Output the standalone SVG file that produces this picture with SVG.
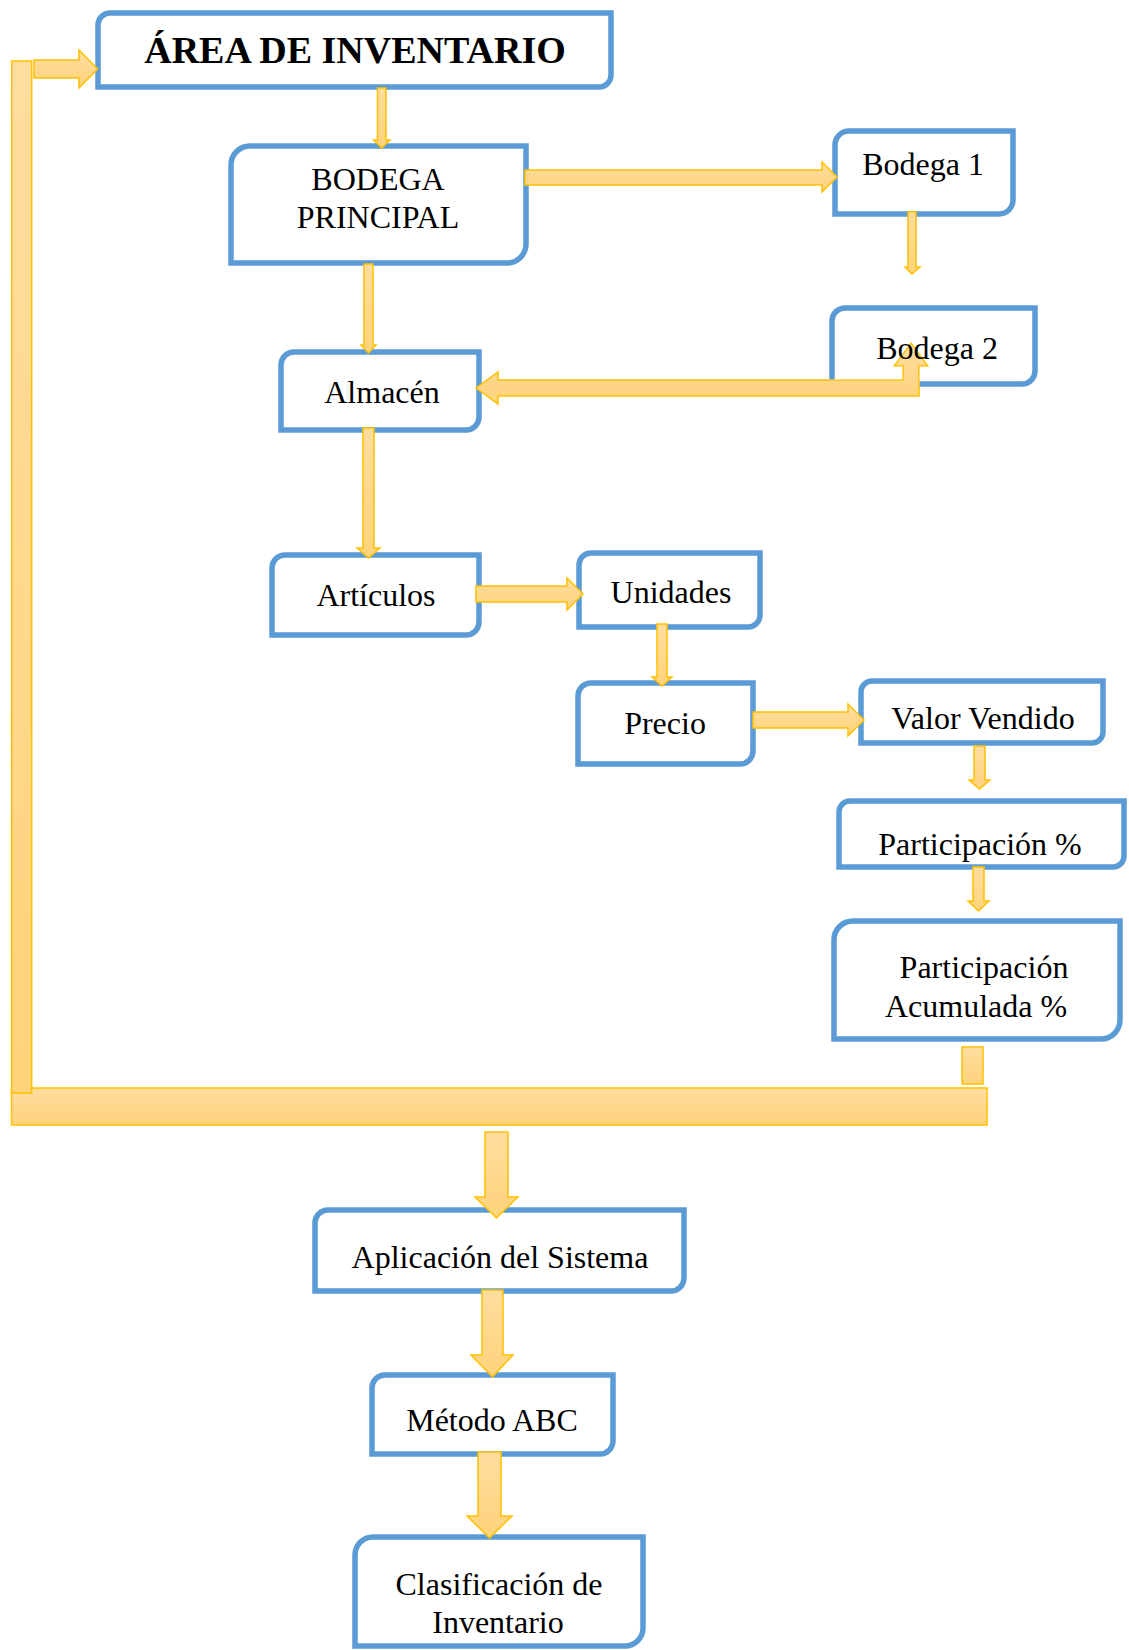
<svg xmlns="http://www.w3.org/2000/svg" width="1129" height="1650" viewBox="0 0 1129 1650">
  <style>
    .box { fill: #FFFFFF; stroke: #5B9BD5; stroke-width: 5.5; }
    .arw { fill: url(#arrowFill); stroke: #FFC000; stroke-width: 1.5; stroke-linejoin: miter; }
    .lbl { font-family: "Liberation Serif", "Times New Roman", serif; font-size: 32px; fill: #000000; text-anchor: middle; }
    .title { font-family: "Liberation Serif", "Times New Roman", serif; font-size: 38px; font-weight: bold; fill: #000000; text-anchor: middle; }
  </style>
  <defs>
    <linearGradient id="arrowFill" x1="0" y1="0" x2="0" y2="1">
      <stop offset="0" stop-color="#FFDD9F"/>
      <stop offset="1" stop-color="#FFD37B"/>
    </linearGradient>
    <!-- left-up arrow outline, shared by the connector and the mask of Bodega 2 -->
    <polygon id="leftUpArrow" points="476,388 498,372 498,380 903,380 903,366 894,366 911,343 928,366 919,366 919,396 498,396 498,404"/>
    <mask id="underArrow" maskUnits="userSpaceOnUse" x="0" y="0" width="1129" height="1650">
      <rect width="1129" height="1650" fill="#FFFFFF"/>
      <use href="#leftUpArrow" fill="#000000" stroke="#000000" stroke-width="1.5"/>
    </mask>
  </defs>
  <rect width="1129" height="1650" fill="#FFFFFF"/>

  <!-- Nodes: rectangles with rounded top-left and bottom-right corners -->
  <g id="area-inventario">
    <path class="box" d="M110,13 H611 V75 A12,12 0 0 1 599,87 H98 V25 A12,12 0 0 1 110,13 Z"/>
    <text class="title" x="355" y="63">ÁREA DE INVENTARIO</text>
  </g>
  <g id="bodega-principal">
    <path class="box" d="M250,146 H526 V244 A19,19 0 0 1 507,263 H231 V165 A19,19 0 0 1 250,146 Z"/>
    <text class="lbl" x="378" y="190">BODEGA</text>
    <text class="lbl" x="378" y="228">PRINCIPAL</text>
  </g>
  <g id="bodega-1">
    <path class="box" d="M849,131 H1013 V200 A14,14 0 0 1 999,214 H835 V145 A14,14 0 0 1 849,131 Z"/>
    <text class="lbl" x="923" y="175">Bodega 1</text>
  </g>
  <g id="almacen">
    <path class="box" d="M294,352 H479 V417 A13,13 0 0 1 466,430 H281 V365 A13,13 0 0 1 294,352 Z"/>
    <text class="lbl" x="382" y="403">Almacén</text>
  </g>
  <g id="articulos">
    <path class="box" d="M285,555 H479 V622 A13,13 0 0 1 466,635 H272 V568 A13,13 0 0 1 285,555 Z"/>
    <text class="lbl" x="376" y="606">Artículos</text>
  </g>
  <g id="unidades">
    <path class="box" d="M591,553 H760 V615 A12,12 0 0 1 748,627 H579 V565 A12,12 0 0 1 591,553 Z"/>
    <text class="lbl" x="671" y="603">Unidades</text>
  </g>
  <g id="precio">
    <path class="box" d="M591,683 H753 V751 A13,13 0 0 1 740,764 H578 V696 A13,13 0 0 1 591,683 Z"/>
    <text class="lbl" x="665" y="734">Precio</text>
  </g>
  <g id="valor-vendido">
    <path class="box" d="M872,681 H1103 V732 A11,11 0 0 1 1092,743 H861 V692 A11,11 0 0 1 872,681 Z"/>
    <text class="lbl" x="983" y="729">Valor Vendido</text>
  </g>
  <g id="participacion">
    <path class="box" d="M850,801 H1124 V856 A11,11 0 0 1 1113,867 H839 V812 A11,11 0 0 1 850,801 Z"/>
    <text class="lbl" x="980" y="855">Participación %</text>
  </g>
  <g id="participacion-acumulada">
    <path class="box" d="M853,921 H1120 V1020 A19,19 0 0 1 1101,1039 H834 V940 A19,19 0 0 1 853,921 Z"/>
    <text class="lbl" x="984" y="978">Participación</text>
    <text class="lbl" x="976" y="1017">Acumulada %</text>
  </g>
  <g id="aplicacion-sistema">
    <path class="box" d="M328,1210 H684 V1278 A13,13 0 0 1 671,1291 H315 V1223 A13,13 0 0 1 328,1210 Z"/>
    <text class="lbl" x="500" y="1268">Aplicación del Sistema</text>
  </g>
  <g id="metodo-abc">
    <path class="box" d="M385,1375 H613 V1441 A13,13 0 0 1 600,1454 H372 V1388 A13,13 0 0 1 385,1375 Z"/>
    <text class="lbl" x="492" y="1431">Método ABC</text>
  </g>
  <g id="clasificacion-inventario">
    <path class="box" d="M373,1537 H643 V1628 A18,18 0 0 1 625,1646 H355 V1555 A18,18 0 0 1 373,1537 Z"/>
    <text class="lbl" x="499" y="1595">Clasificación de</text>
    <text class="lbl" x="498" y="1633">Inventario</text>
  </g>

  <!-- Connectors: block arrows and the feedback frame -->
  <g id="connectors">
    <!-- feedback loop from Participación Acumulada back to the top -->
    <rect class="arw" x="962" y="1047" width="21" height="37"/>
    <rect class="arw" x="11.5" y="1088" width="975.5" height="37"/>
    <rect class="arw" x="11.7" y="61" width="20" height="1032"/>
    <polygon class="arw" points="34,60 79,60 79,50 97.7,69 79,88 79,78 34,78"/>

    <!-- ÁREA DE INVENTARIO to BODEGA PRINCIPAL -->
    <polygon class="arw" points="377.5,88 386,88 386,140 390,140 381.7,148 373.5,140 377.5,140"/>
    <!-- BODEGA PRINCIPAL to Bodega 1 -->
    <polygon class="arw" points="525,170 822,170 822,162 837,177 822,192 822,185 525,185"/>
    <!-- Bodega 1 to Bodega 2 -->
    <polygon class="arw" points="908,212 916,212 916,267 920,267 912,274 905,267 908,267"/>
    <!-- Bodega 2 / Almacén: left-up arrow -->
    <use class="arw" href="#leftUpArrow"/>
    <!-- BODEGA PRINCIPAL to Almacén -->
    <polygon class="arw" points="364,264 373,264 373,345 376,345 368.5,353 361,345 364,345"/>
    <!-- Almacén to Artículos -->
    <polygon class="arw" points="363,428 374,428 374,548 380,548 368.5,558 357,548 363,548"/>
    <!-- Artículos to Unidades -->
    <polygon class="arw" points="476,586 567,586 567,578 583,594 567,610 567,602 476,602"/>
    <!-- Unidades to Precio -->
    <polygon class="arw" points="657,624 667,624 667,677 672,677 662,686 652,677 657,677"/>
    <!-- Precio to Valor Vendido -->
    <polygon class="arw" points="753,712 848,712 848,704 864,720 848,736 848,728 753,728"/>
    <!-- Valor Vendido to Participación % -->
    <polygon class="arw" points="974,746 985,746 985,780 990,780 979.5,789 969,780 974,780"/>
    <!-- Participación % to Participación Acumulada % -->
    <polygon class="arw" points="973,867 984,867 984,901 989,901 978.5,911 968,901 973,901"/>
    <!-- feedback bar to Aplicación del Sistema -->
    <polygon class="arw" points="485,1132 508,1132 508,1197 518,1197 496.5,1218 475,1197 485,1197"/>
    <!-- Aplicación del Sistema to Método ABC -->
    <polygon class="arw" points="482,1290 503,1290 503,1355 513,1355 492.5,1377 471,1355 482,1355"/>
    <!-- Método ABC to Clasificación de Inventario -->
    <polygon class="arw" points="478,1452 501,1452 501,1516 512,1516 489.5,1538 467,1516 478,1516"/>
  </g>

  <!-- Bodega 2 sits over the left-up arrow: its frame is cut away where the arrow runs, its label stays on top -->
  <g id="bodega-2">
    <path class="box" mask="url(#underArrow)" d="M845,308 H1035 V371 A13,13 0 0 1 1022,384 H832 V321 A13,13 0 0 1 845,308 Z"/>
    <text class="lbl" x="937" y="359">Bodega 2</text>
  </g>
</svg>
